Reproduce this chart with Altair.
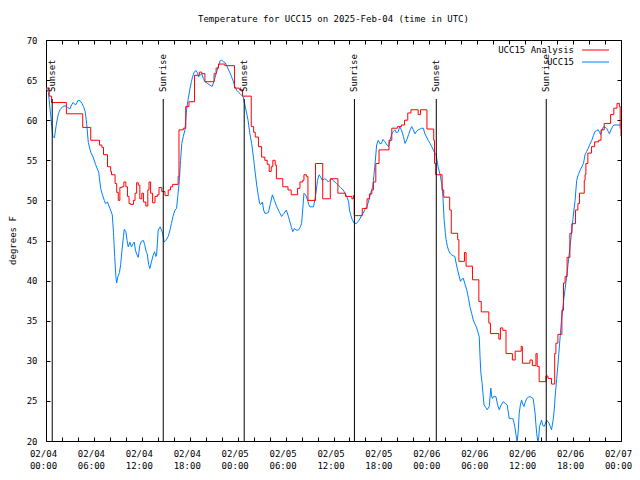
import altair as alt
import pandas as pd

# ---- data (hours since 2025-02-04 00:00 UTC, degrees F) ----
blue_t = [0.0, 0.3, 0.6, 0.85, 1.05, 1.3, 1.55, 1.75, 2.1, 2.4, 2.7, 3.0, 3.2, 3.4, 3.7, 4.05, 4.3, 4.5, 4.7, 4.9,
          5.1, 5.3, 5.6, 5.9, 6.2, 6.6, 6.85, 7.0, 7.3, 7.45, 7.7, 8.0, 8.3, 8.45, 8.6, 8.75, 8.85, 9.0, 9.2, 9.35,
          9.5, 9.7, 9.8, 10.0, 10.15, 10.3, 10.5, 10.7, 10.9, 11.05, 11.2, 11.35, 11.55, 11.75, 11.95, 12.2, 12.35,
          12.5, 12.6, 12.7, 12.85, 13.0, 13.2, 13.4, 13.6, 13.75, 13.85, 14.05, 14.3, 14.5, 14.6, 14.8, 15.0, 15.3,
          15.5, 15.7, 15.9, 16.15, 16.35, 16.5, 16.7, 16.85, 17.0, 17.2, 17.4, 17.6, 17.8, 18.0, 18.2, 18.35, 18.55,
          18.8, 19.0, 19.1, 19.3, 19.5, 19.7, 19.9, 20.2, 20.5, 20.8, 21.05, 21.3, 21.55, 21.8, 22.0, 22.2, 22.4,
          22.6, 22.8, 23.0, 23.2, 23.4, 23.65, 23.9, 24.1, 24.3, 24.5, 24.7, 24.9, 25.1, 25.3, 25.5, 25.75, 26.0,
          26.2, 26.4, 26.6, 26.75, 26.9, 27.1, 27.25, 27.4, 27.65, 27.85, 28.1, 28.35, 28.6, 28.9, 29.2, 29.5, 29.8,
          30.1, 30.35, 30.55, 30.75, 30.9, 31.1, 31.3, 31.6, 31.8, 32.0, 32.2, 32.3, 32.5, 32.7, 32.9, 33.05, 33.3,
          33.5, 33.65, 33.8, 34.0, 34.2, 34.4, 34.6, 34.9, 35.1, 35.35, 35.55, 35.8, 36.0, 36.2, 36.4, 36.6, 36.9,
          37.2, 37.45, 37.65, 37.9, 38.0, 38.15, 38.35, 38.55, 38.85, 39.1, 39.3, 39.5, 39.7, 39.95, 40.15, 40.35,
          40.6, 40.9, 41.0, 41.2, 41.4, 41.6, 41.8, 42.0, 42.2, 42.45, 42.7, 42.9, 43.1, 43.3, 43.5, 43.7, 43.9,
          44.1, 44.3, 44.5, 44.75, 44.95, 45.2, 45.4, 45.6, 45.8, 46.0, 46.2, 46.4, 46.6, 46.85, 47.05, 47.25,
          47.45, 47.65, 47.85, 48.1, 48.3, 48.5, 48.7, 48.85, 49.1, 49.35, 49.55, 49.7, 49.85, 50.0, 50.1, 50.25,
          50.4, 50.6, 50.8, 51.0, 51.2, 51.35, 51.5, 51.7, 51.9, 52.1, 52.25, 52.45, 52.7, 52.9, 53.1, 53.3, 53.5,
          53.7, 53.9, 54.1, 54.25, 54.35, 54.45, 54.6, 54.75, 54.85, 55.05, 55.25, 55.5, 55.7, 55.8, 55.9, 56.1,
          56.35, 56.55, 56.75, 57.0, 57.25, 57.5, 57.75, 57.9, 58.0, 58.3, 58.45, 58.6, 58.7, 58.85, 59.0, 59.15,
          59.25, 59.4, 59.55, 59.7, 59.85, 60.0, 60.2, 60.45, 60.7, 60.85, 61.0, 61.15, 61.25, 61.35, 61.45, 61.6,
          61.7, 61.8, 61.95, 62.05, 62.2, 62.35, 62.5, 62.7, 62.85, 63.0, 63.15, 63.3, 63.5, 63.65, 63.75, 63.95,
          64.15, 64.35, 64.55, 64.85, 65.2, 65.5, 65.8, 66.05, 66.25, 66.45, 66.65, 66.9, 67.1, 67.3, 67.5, 67.7,
          67.9, 68.1, 68.35, 68.55, 68.75, 68.95, 69.15, 69.3, 69.45, 69.6, 69.8, 70.0, 70.2, 70.4, 70.55, 70.75,
          70.95, 71.1, 71.5, 72.0]
blue_v = [64.0, 63.5, 60.5, 58.0, 57.8, 59.5, 60.8, 61.3, 61.7, 61.8, 61.6, 61.4, 61.9, 62.2, 61.9, 62.5, 62.4, 62.1,
          61.7, 61.1, 59.5, 57.2, 56.0, 55.4, 54.5, 53.5, 51.5, 50.9, 50.0, 49.6, 49.8, 49.0, 48.2, 46.0, 43.0, 40.5,
          39.7, 40.5, 41.0, 42.0, 43.6, 45.5, 46.4, 46.1, 45.0, 44.2, 44.8, 44.2, 44.6, 44.8, 43.8, 43.3, 42.9, 44.4,
          44.9, 45.0, 44.5, 43.8, 43.5, 43.2, 42.0, 41.5, 42.3, 43.1, 43.6, 43.0, 43.2, 46.3, 46.7, 46.2, 45.9, 44.8,
          45.0, 45.5, 46.2, 47.1, 48.0, 48.8, 49.0, 50.5, 52.5, 55.0, 57.1, 58.0, 58.8, 61.3, 62.6, 63.8, 64.8, 65.4,
          66.0, 66.2, 65.8, 65.4, 65.6, 65.8, 65.2, 64.8, 64.6, 64.4, 64.2, 64.9, 65.8, 66.6, 67.4, 67.5, 67.3, 67.2,
          66.9, 66.4, 66.0, 65.5, 65.0, 64.2, 63.7, 63.5, 63.3, 63.1, 62.9, 61.9, 61.0, 60.0, 58.5, 57.1, 55.2, 53.4,
          51.8, 50.5, 49.6, 49.5, 49.8, 48.8, 48.4, 48.4, 48.5, 49.6, 50.7, 50.0, 49.2, 48.6, 48.0, 48.4, 48.8, 48.0,
          47.3, 46.6, 46.1, 46.5, 46.3, 46.3, 46.6, 47.1, 49.5, 50.9, 50.7, 50.2, 49.5, 49.2, 49.2, 49.2, 50.0, 50.9,
          52.5, 53.2, 52.9, 52.5, 52.7, 52.6, 52.3, 52.5, 52.7, 52.4, 52.3, 52.1, 51.9, 51.6, 51.3, 50.9, 50.5, 49.8,
          48.8, 48.2, 47.6, 47.2, 47.1, 47.4, 47.7, 48.1, 48.4, 48.9, 49.2, 49.7, 50.7, 51.7, 52.5, 54.5, 56.9, 57.5,
          57.1, 57.1, 57.6, 57.3, 56.9, 56.7, 57.6, 58.3, 58.6, 58.8, 58.4, 58.6, 59.2, 58.8, 58.0, 57.1, 57.6, 58.2,
          58.8, 59.2, 58.8, 58.3, 58.6, 58.8, 58.9, 59.0, 59.0, 58.3, 57.9, 57.5, 57.1, 56.7, 56.3, 55.9, 55.7, 54.2,
          53.2, 52.1, 50.5, 47.6, 46.0, 45.1, 44.3, 43.8, 43.4, 43.2, 43.1, 43.0, 42.2, 41.5, 40.7, 39.9, 40.2, 40.3,
          39.6, 38.8, 37.8, 36.7, 35.9, 35.1, 34.6, 34.2, 33.5, 33.0, 30.5, 28.5, 27.3, 25.5, 24.5, 24.2, 23.9, 24.3,
          26.6, 25.6, 25.3, 25.6, 25.5, 24.5, 23.9, 24.5, 24.9, 24.7, 24.5, 23.5, 22.8, 22.8, 22.8, 22.3, 21.8, 20.8,
          19.8, 21.5, 23.4, 24.5, 25.1, 24.6, 24.3, 24.8, 25.3, 25.5, 25.5, 25.4, 25.3, 24.2, 23.4, 22.0, 20.9, 19.8,
          20.5, 21.8, 22.3, 22.6, 22.0, 21.8, 22.1, 22.6, 22.4, 22.2, 21.8, 21.4, 22.6, 24.0, 25.5, 27.8, 30.1, 32.6,
          35.1, 37.8, 40.5, 43.2, 45.9, 48.3, 50.0, 52.5, 53.2, 53.8, 54.2, 54.6, 55.7, 56.1, 56.5, 57.0, 57.5, 58.1,
          58.6, 58.7, 58.8, 58.5, 58.2, 58.7, 59.2, 59.1, 59.0, 58.6, 58.3, 58.8, 59.2, 59.4, 59.4, 59.4]

red_t = [0.0, 0.4, 0.7, 2.55, 4.6, 5.6, 6.7, 7.0, 7.2, 7.7, 8.1, 8.2, 8.65, 8.85, 9.05, 9.25, 9.5, 9.75, 10.0, 10.2,
         10.4, 10.6, 10.95, 11.15, 11.35, 11.55, 11.75, 12.0, 12.2, 12.5, 12.75, 12.9, 13.1, 13.35, 13.65, 13.95,
         14.15, 14.5, 14.9, 15.3, 15.6, 15.85, 16.55, 16.65, 17.2, 17.5, 17.9, 18.6, 19.2, 19.5, 19.9, 21.05, 21.3,
         21.6, 22.4, 23.6, 24.2, 24.6, 25.7, 26.0, 26.2, 26.6, 27.0, 27.4, 27.7, 27.95, 28.2, 28.4, 28.7, 28.85,
         29.65, 30.3, 30.7, 31.5, 31.8, 32.15, 32.3, 32.6, 32.8, 33.75, 34.65, 35.6, 36.55, 37.5, 38.3, 38.5, 38.6,
         39.6, 40.2, 40.5, 40.8, 41.0, 41.3, 41.7, 42.95, 43.3, 44.0, 44.5, 44.9, 45.3, 45.7, 46.6, 46.9, 47.7,
         48.55, 48.65, 48.8, 49.6, 49.8, 50.55, 50.75, 51.55, 51.7, 52.4, 52.6, 53.4, 54.2, 54.5, 55.45, 55.65,
         56.7, 56.9, 57.2, 57.6, 58.4, 58.75, 59.5, 59.65, 60.6, 60.9, 61.35, 61.5, 61.75, 62.6, 62.85, 63.3, 63.7,
         63.85, 64.1, 64.6, 64.8, 65.0, 65.25, 65.6, 65.85, 66.3, 66.6, 66.8, 67.4, 67.5, 67.6, 67.85, 68.3, 68.7,
         69.2, 69.5, 69.9, 70.7, 71.1, 71.5, 71.8, 71.9, 72.0]
red_v = [64.0, 63.0, 62.2, 60.8, 59.1, 57.5, 56.9, 56.6, 55.7, 54.2, 53.6, 53.2, 52.1, 51.0, 50.0, 51.6, 51.7, 52.3,
         51.7, 50.5, 49.6, 49.5, 50.0, 50.9, 52.2, 51.9, 50.2, 50.9, 49.8, 49.3, 51.3, 52.3, 50.9, 49.7, 50.5, 50.7,
         51.6, 51.1, 50.6, 51.3, 51.7, 52.0, 53.0, 58.8, 59.0, 61.7, 62.3, 65.6, 66.0, 65.8, 64.8, 65.8, 66.5, 67.0,
         66.8, 64.0, 63.8, 63.0, 59.2, 58.5, 57.9, 56.7, 55.4, 55.0, 54.5, 53.6, 54.2, 55.0, 54.4, 52.7, 51.7, 51.3,
         50.7, 51.5, 52.3, 52.5, 53.2, 53.0, 50.0, 54.6, 50.2, 52.7, 50.9, 50.5, 50.2, 50.6, 48.1, 49.0, 50.2, 50.8,
         51.3, 52.3, 54.6, 56.3, 57.5, 59.0, 59.2, 59.4, 60.0, 60.9, 61.3, 60.7, 61.3, 58.9, 57.5, 54.6, 53.2, 51.3,
         50.4, 48.8, 45.9, 45.1, 42.4, 43.5, 41.8, 40.1, 37.4, 36.1, 34.7, 33.4, 32.7, 34.1, 33.8, 30.9, 30.1, 31.2,
         31.8, 29.7, 30.1, 29.4, 30.9, 29.3, 27.4, 28.1, 27.8, 27.1, 30.9, 32.2, 33.3, 36.3, 39.7, 40.5, 42.9, 45.9,
         47.1, 48.8, 49.6, 50.9, 52.5, 53.2, 54.6, 55.9, 56.7, 57.3, 57.5, 58.8, 59.6, 60.7, 61.5, 62.1, 61.7, 59.0,
         58.0]

event_t = [0.78, 14.68, 24.82, 38.62, 48.87, 62.64]
event_label = ["Sunset", "Sunrise", "Sunset", "Sunrise", "Sunset", "Sunrise"]

series_names = ["UCC15 Analysis", "UCC15"]
series_colors = ["#ff0000", "#0080ff"]

x_major = list(range(0, 73, 6))
x_minor = list(range(0, 73, 2))
y_ticks = list(range(20, 71, 5))

FONT = "DejaVu Sans Mono"
FS = 9

blue_df = pd.DataFrame({"t": blue_t, "v": blue_v})
red_df = pd.DataFrame({"t": red_t, "v": red_v})
ev_df = pd.DataFrame({"t": event_t, "label": event_label})

xs = alt.Scale(domain=[0, 72], nice=False, zero=False)
ys = alt.Scale(domain=[20, 70], nice=False, zero=False)

lab_expr = ("['02/0' + (4 + floor(datum.value / 24)), "
            "(datum.value % 24 < 10 ? '0' : '') + (datum.value % 24) + ':00']")

blue = alt.Chart(blue_df).mark_line(color=series_colors[1], strokeWidth=1, clip=True).encode(
    x=alt.X("t:Q", scale=xs, axis=alt.Axis(
        orient="bottom", values=x_major, labelExpr=lab_expr, ticks=False, tickSize=0,
        tickOffset=-3, domain=False, grid=False, title=None, labelFont=FONT, labelFontSize=FS,
        labelPadding=8, labelFlush=False, labelOverlap=False, labelLineHeight=12,
        labelBaseline="top", labelColor="black")),
    y=alt.Y("v:Q", scale=ys, axis=alt.Axis(
        orient="left", values=y_ticks, ticks=False, tickSize=0, domain=False, grid=False,
        labelFont=FONT, labelFontSize=FS, labelPadding=9, labelColor="black",
        title="degrees F", titleFont=FONT, titleFontSize=FS, titleFontWeight="normal",
        titleColor="black", titleAngle=270, titleX=-31, titleY=200,
        titleAlign="center", titleBaseline="alphabetic")),
)

red = alt.Chart(red_df).mark_line(color=series_colors[0], strokeWidth=1, clip=True,
                                  interpolate="step-after").encode(
    x=alt.X("t:Q", scale=xs, axis=alt.Axis(
        orient="bottom", values=x_minor, offset=-4, tickSize=4, tickColor="black",
        labels=False, domain=False, grid=False, title=None)),
    y=alt.Y("v:Q", scale=ys, axis=alt.Axis(
        orient="left", values=y_ticks, offset=-4, tickSize=4, tickColor="black",
        labels=False, domain=False, grid=False, title=None)),
)

# carrier of the mirrored (top / right) tick marks, drawn invisibly
mirror = alt.Chart(red_df).mark_line(strokeOpacity=0, clip=True).encode(
    x=alt.X("t:Q", scale=xs, axis=alt.Axis(
        orient="top", values=x_minor, offset=-4, tickSize=4, tickColor="black",
        labels=False, domain=False, grid=False, title=None)),
    y=alt.Y("v:Q", scale=ys, axis=alt.Axis(
        orient="right", values=y_ticks, offset=-4, tickSize=4, tickColor="black",
        labels=False, domain=False, grid=False, title=None)),
)

ev_rules = alt.Chart(ev_df).mark_rule(color="black", strokeWidth=1).encode(
    x=alt.X("t:Q", scale=xs, axis=None),
    y=alt.value(59),
    y2=alt.value(401),
)

ev_text = alt.Chart(ev_df).mark_text(angle=270, align="left", baseline="middle",
                                     font=FONT, fontSize=FS, color="black").encode(
    x=alt.X("t:Q", scale=xs, axis=None),
    y=alt.value(52),
    text="label:N",
)

legend_layers = []
for i, (name, col) in enumerate(zip(series_names, series_colors)):
    ldf = pd.DataFrame({"name": [name]})
    legend_layers.append(
        alt.Chart(ldf).mark_text(align="right", baseline="middle", font=FONT,
                                 fontSize=FS, color="black").encode(
            x=alt.value(528), y=alt.value(10 + 12 * i), text="name:N"))
    legend_layers.append(
        alt.Chart(ldf).mark_rule(color=col, strokeWidth=1).encode(
            x=alt.value(536), x2=alt.value(563), y=alt.value(10 + 12 * i)))

chart = alt.layer(blue, red, mirror, ev_rules, ev_text, *legend_layers).resolve_axis(
    x="independent", y="independent"
).properties(
    width=575,
    height=401,
    title=alt.TitleParams("Temperature for UCC15 on 2025-Feb-04 (time in UTC)",
                          font=FONT, fontSize=FS, fontWeight="normal", color="black",
                          anchor="middle", offset=12),
    autosize=alt.AutoSizeParams(type="none"),
    padding={"left": 38, "top": 32, "right": 11, "bottom": 31},
    background="white",
).configure_view(stroke="black", strokeWidth=1)

chart.save("out.html", embed_options={"renderer": "svg", "actions": False})
